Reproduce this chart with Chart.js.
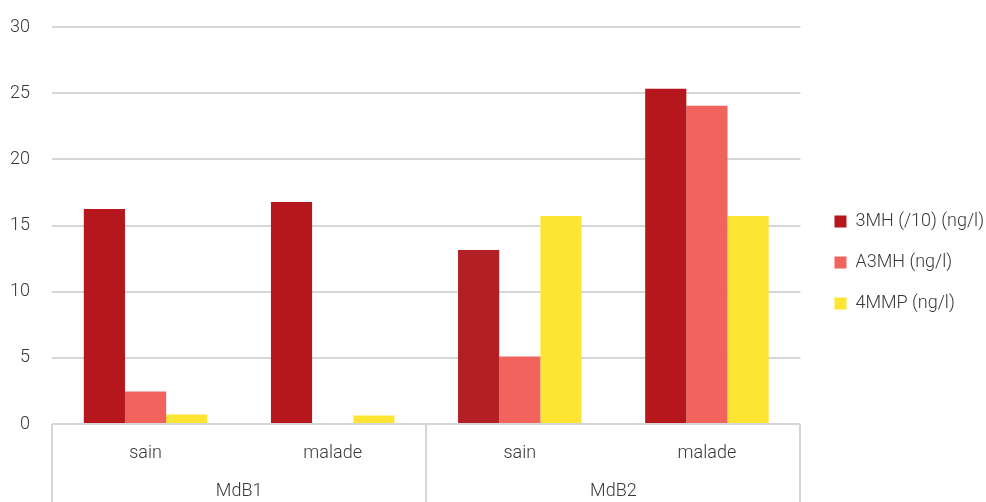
<!DOCTYPE html>
<html>
<head>
<meta charset="utf-8">
<script src="https://cdn.jsdelivr.net/npm/chart.js@4/dist/chart.umd.min.js"></script>
<style>
  html, body { margin: 0; padding: 0; background: #ffffff; }
  #wrap { width: 986px; height: 502px; }
</style>
</head>
<body>
<div id="wrap"><canvas id="chart" width="986" height="502"></canvas></div>
<script>
// Sample conditions (inner axis) and their wine groups (outer axis)
const conditions = ['sain', 'malade', 'sain', 'malade'];
const groups = ['MdB1', 'MdB2'];

// Series labels
const seriesNames = ['3MH (/10) (ng/l)', 'A3MH (ng/l)', '4MMP (ng/l)'];

// Measured values per condition
const mh3 = [16.25, 16.78, 13.15, 25.33];
const a3mh = [2.45, 0, 5.1, 24.04];
const mmp4 = [0.72, 0.65, 15.72, 15.72];

// Y axis range
const yMin = 0;
const yMax = 30;
const yStep = 5;

const textColor = '#383838';
const lineColor = '#d6d6d6';
const fontFamily = 'Roboto, "Noto Sans", sans-serif';
const font = { family: fontFamily, size: 18, weight: 300 };

// Vertical separators between the groups, drawn below the plot area
const groupSeparators = {
  id: 'groupSeparators',
  afterDraw(chart) {
    const x = chart.scales.x;
    const area = chart.chartArea;
    const n = conditions.length;
    const per = n / groups.length;
    const ctx = chart.ctx;
    ctx.save();
    ctx.strokeStyle = lineColor;
    ctx.lineWidth = 2;
    for (let g = 0; g <= groups.length; g++) {
      let px;
      if (g === 0) px = area.left;
      else if (g === groups.length) px = area.right;
      else px = (x.getPixelForValue(g * per - 1) + x.getPixelForValue(g * per)) / 2;
      px = Math.round(px);
      ctx.beginPath();
      ctx.moveTo(px, area.bottom);
      ctx.lineTo(px, chart.height);
      ctx.stroke();
    }
    ctx.restore();
  }
};

new Chart(document.getElementById('chart'), {
  type: 'bar',
  data: {
    labels: conditions,
    datasets: [
      {
        label: seriesNames[0],
        data: mh3,
        backgroundColor: ['#b5171d', '#b5171d', '#b21f24', '#b5171d']
      },
      {
        label: seriesNames[1],
        data: a3mh,
        backgroundColor: '#f1645d'
      },
      {
        label: seriesNames[2],
        data: mmp4,
        backgroundColor: '#ffe533'
      }
    ]
  },
  options: {
    responsive: false,
    animation: false,
    devicePixelRatio: 1,
    layout: { padding: { left: 10, top: 27, right: -8, bottom: 4 } },
    datasets: {
      bar: { categoryPercentage: 0.66, barPercentage: 1.0, borderWidth: 0 }
    },
    plugins: {
      legend: {
        position: 'right',
        maxWidth: 300,
        labels: {
          boxWidth: 12,
          boxHeight: 12,
          padding: 23,
          color: textColor,
          font: font
        }
      },
      tooltip: { enabled: false }
    },
    scales: {
      x: {
        type: 'category',
        position: 'bottom',
        offset: true,
        grid: { display: false, drawTicks: false },
        border: { display: false },
        ticks: { color: textColor, padding: 19, font: font },
        afterFit(scale) { scale.height = 37; }
      },
      x2: {
        type: 'category',
        position: 'bottom',
        labels: groups,
        offset: true,
        grid: { display: false, drawTicks: false },
        border: { display: false },
        ticks: { color: textColor, padding: 20, font: font },
        afterFit(scale) { scale.height = 37; }
      },
      y: {
        min: yMin,
        max: yMax,
        ticks: { stepSize: yStep, color: textColor, padding: 22, font: font },
        grid: { color: lineColor, lineWidth: 2, drawTicks: false },
        border: { display: false },
        afterFit(scale) {
          scale.width = 42;
          scale.paddingTop = 10;
          scale.paddingBottom = 10;
        }
      },
      gap: {
        type: 'linear',
        position: 'right',
        display: true,
        grid: { display: false, drawTicks: false },
        border: { display: false },
        ticks: { display: false },
        afterFit(scale) { scale.width = 11; }
      }
    }
  },
  plugins: [groupSeparators]
});
</script>
</body>
</html>
